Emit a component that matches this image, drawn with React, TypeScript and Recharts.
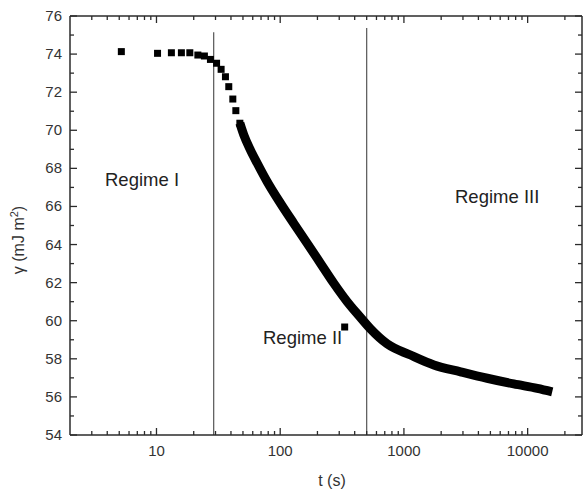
import React from 'react';
import { ComposedChart, Scatter, Line, XAxis, YAxis, ReferenceLine } from 'recharts';

// time (s) on a log axis, surface tension gamma (mJ m^-2)
const sparseT = [5.2, 10.2, 13.2, 15.9, 18.6, 21.6, 24.4, 27.3, 30.6, 33.3, 36.1, 38.4, 41.4, 43.8, 47.2, 332];
const sparseG = [74.13, 74.04, 74.07, 74.07, 74.07, 73.95, 73.9, 73.72, 73.52, 73.2, 72.81, 72.29, 71.64, 71.03, 70.37, 59.67];

// dense run of points that merges into a band
const denseT = [47.2, 50.8, 57.5, 65.2, 78.5, 100.5, 128.8, 165, 212, 271, 348, 446, 537, 733, 1130, 1745, 2870, 4710, 7730, 11960, 15800];
const denseG = [70.37, 69.75, 68.96, 68.27, 67.3, 66.17, 65.11, 64.07, 63.01, 61.97, 61.0, 60.17, 59.57, 58.78, 58.2, 57.68, 57.32, 56.98, 56.68, 56.45, 56.27];

const majorX = [10, 100, 1000, 10000];
const minorX = [3, 4, 5, 6, 7, 8, 9, 20, 30, 40, 50, 60, 70, 80, 90, 200, 300, 400, 500, 600, 700, 800, 900,
  2000, 3000, 4000, 5000, 6000, 7000, 8000, 9000, 20000];
const majorY = [54, 56, 58, 60, 62, 64, 66, 68, 70, 72, 74, 76];
const minorY = [55, 57, 59, 61, 63, 65, 67, 69, 71, 73, 75];

const regimeBounds = [29, 500];
const boundTops = [75.15, 75.37];

const sparse = sparseT.map((t, i) => ({ t, g: sparseG[i] }));
const dense = denseT.map((t, i) => ({ t, g: denseG[i] }));
const xTicks = [...majorX, ...minorX].sort((a, b) => a - b);
const yTicks = [...majorY, ...minorY].sort((a, b) => a - b);

const AXIS = '#2b2b2b';
const TXT = '#333';
const FONT = '"Liberation Sans", Arial, sans-serif';

const BottomTick = ({ x, y, payload }: any) => {
  const major = majorX.includes(payload.value);
  return (
    <g>
      <line x1={x} x2={x} y1={y} y2={y - (major ? 7 : 4)} stroke={AXIS} strokeWidth={1.3} />
      {major && (
        <text x={x} y={y + 21} textAnchor="middle" fontSize={15} fill={TXT} fontFamily={FONT}>
          {payload.value}
        </text>
      )}
    </g>
  );
};

const TopTick = ({ x, y, payload }: any) => {
  const major = majorX.includes(payload.value);
  return <line x1={x} x2={x} y1={y} y2={y + (major ? 7 : 4)} stroke={AXIS} strokeWidth={1.3} />;
};

const LeftTick = ({ x, y, payload }: any) => {
  const major = majorY.includes(payload.value);
  return (
    <g>
      <line x1={x} x2={x + (major ? 7 : 4)} y1={y} y2={y} stroke={AXIS} strokeWidth={1.3} />
      {major && (
        <text x={x - 8} y={y + 5} textAnchor="end" fontSize={15} fill={TXT} fontFamily={FONT}>
          {payload.value}
        </text>
      )}
    </g>
  );
};

const RightTick = ({ x, y, payload }: any) => {
  const major = majorY.includes(payload.value);
  return <line x1={x} x2={x - (major ? 7 : 4)} y1={y} y2={y} stroke={AXIS} strokeWidth={1.3} />;
};

const SquareDot = ({ cx, cy }: any) => <rect x={cx - 3.5} y={cy - 3.5} width={7} height={7} fill="#000" />;

export default function App() {
  return (
    <div style={{ width: 584, height: 490 }}>
      <style>{'body{margin:0}'}</style>
      <ComposedChart width={584} height={490} margin={{ top: 15, right: 1, bottom: 0, left: 0 }}>
        <XAxis
          xAxisId="bottom"
          dataKey="t"
          type="number"
          scale="log"
          domain={[2, 27500]}
          allowDataOverflow
          ticks={xTicks}
          interval={0}
          height={55}
          tickSize={0}
          tickMargin={0}
          tickLine={false}
          tick={<BottomTick />}
          axisLine={{ stroke: AXIS, strokeWidth: 1.5 }}
        />
        <XAxis
          xAxisId="top"
          orientation="top"
          dataKey="t"
          type="number"
          scale="log"
          domain={[2, 27500]}
          allowDataOverflow
          ticks={xTicks}
          interval={0}
          height={1}
          tickSize={0}
          tickMargin={0}
          tickLine={false}
          tick={<TopTick />}
          axisLine={{ stroke: AXIS, strokeWidth: 1.5 }}
        />
        <YAxis
          yAxisId="left"
          dataKey="g"
          type="number"
          domain={[54, 76]}
          allowDataOverflow
          ticks={yTicks}
          interval={0}
          width={70}
          tickSize={0}
          tickMargin={0}
          tickLine={false}
          tick={<LeftTick />}
          axisLine={{ stroke: AXIS, strokeWidth: 1.5 }}
        />
        <YAxis
          yAxisId="right"
          orientation="right"
          dataKey="g"
          type="number"
          domain={[54, 76]}
          allowDataOverflow
          ticks={yTicks}
          interval={0}
          width={1}
          tickSize={0}
          tickMargin={0}
          tickLine={false}
          tick={<RightTick />}
          axisLine={{ stroke: AXIS, strokeWidth: 1.5 }}
        />
        {regimeBounds.map((b, i) => (
          <ReferenceLine
            key={b}
            xAxisId="bottom"
            yAxisId="left"
            segment={[{ x: b, y: boundTops[i] }, { x: b, y: 54 }]}
            stroke="#555"
            strokeWidth={1.2}
          />
        ))}
        <Line
          xAxisId="bottom"
          yAxisId="left"
          data={dense}
          dataKey="g"
          type="monotone"
          stroke="#000"
          strokeWidth={9}
          dot={false}
          activeDot={false}
          isAnimationActive={false}
        />
        <Scatter
          xAxisId="bottom"
          yAxisId="left"
          data={sparse}
          dataKey="g"
          shape={<SquareDot />}
          isAnimationActive={false}
        />
        <text x={105} y={186} fontSize={18.5} fill="#222" fontFamily={FONT}>Regime I</text>
        <text x={263} y={343.5} fontSize={18.5} fill="#222" fontFamily={FONT}>Regime II</text>
        <text x={455} y={203} fontSize={18.5} fill="#222" fontFamily={FONT}>Regime III</text>
        <text x={332} y={486} textAnchor="middle" fontSize={16} fill={TXT} fontFamily={FONT}>t (s)</text>
        <text
          x={24}
          y={240}
          textAnchor="middle"
          fontSize={16}
          fill={TXT}
          fontFamily={FONT}
          transform="rotate(-90 24 240)"
        >
          γ (mJ m<tspan dy={-6} fontSize={11}>2</tspan><tspan dy={6}>)</tspan>
        </text>
      </ComposedChart>
    </div>
  );
}
